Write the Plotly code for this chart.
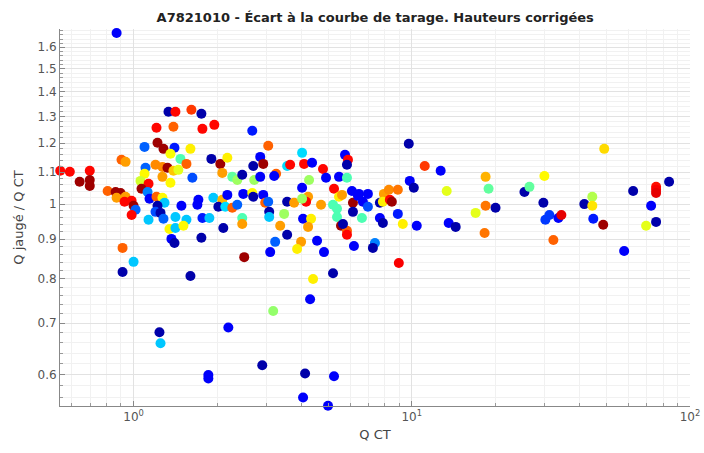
import plotly.graph_objects as go

TITLE = "A7821010 - Écart à la courbe de tarage. Hauteurs corrigées"

# débit de la courbe de tarage (Q CT)
q_ct = [
    0.545, 0.590, 0.640, 0.696, 0.696, 0.696, 0.807, 0.862, 0.898, 0.869,
    0.936, 0.928, 0.984, 1.0, 1.017, 0.984, 0.905, 0.936, 0.913, 0.913,
    1.0, 0.869, 1.335, 1.414, 1.614, 1.753, 1.209, 1.391, 1.768, 1.951,
    1.095, 1.219, 1.281, 1.403, 1.601, 1.357, 1.474, 1.549, 1.904, 2.050,
    2.173, 1.104, 1.199, 1.270, 1.324, 1.391, 1.449, 1.095, 1.270, 1.357,
    1.627, 2.084, 2.264, 2.359, 2.458, 1.059, 1.132, 1.068, 1.123, 1.141,
    1.209, 1.270, 1.292, 1.219, 1.199, 1.250, 1.132, 1.281, 1.414, 1.549,
    1.486, 1.696, 1.710, 1.768, 1.873, 1.935, 2.084, 2.017, 2.137, 2.264,
    2.359, 2.479, 2.173, 1.346, 1.414, 1.511, 1.368, 1.403, 1.753, 2.102,
    2.458, 2.458, 2.499, 1.601, 1.239, 1.250, 2.191, 1.857, 1.857,
    2.671, 3.048, 2.853, 2.693, 2.925, 2.715, 2.853, 2.671, 2.693, 2.925,
    2.973, 3.048, 3.073, 3.073, 3.477, 3.565, 3.777, 3.365, 3.565, 3.228,
    3.098, 4.034, 4.274, 4.034, 3.565, 3.654, 3.254, 3.202, 4.101, 4.381,
    4.239, 4.170, 4.034, 4.067, 4.345, 4.239, 4.719, 4.797, 4.918, 5.254,
    5.476, 5.848, 5.754, 5.897, 5.848, 5.211, 5.476, 5.613, 6.095, 6.145,
    5.386, 5.386, 5.566, 5.848, 5.659, 5.848, 6.404, 4.001, 4.566, 3.871,
    4.837, 6.196, 5.211, 4.418, 4.310, 3.176, 2.901, 4.135, 5.254, 4.067,
    5.0,
    9.755, 11.13, 12.70, 9.836, 10.17, 13.35, 6.457, 6.955, 7.940, 8.273,
    8.910, 6.674, 6.955, 7.681, 7.874, 8.34, 8.480, 6.145, 6.619, 7.681,
    7.874, 8.910, 9.284, 10.42, 13.57, 14.38, 7.370, 7.248, 8.984,
    49.17, 18.42, 18.88, 18.42, 20.0, 16.96, 18.27, 25.41, 26.48, 29.97,
    29.72, 30.21, 31.23, 33.65, 34.49, 32.28, 41.70, 44.55, 44.55, 44.92,
    48.76, 57.99, 62.47, 72.48, 69.55, 75.53, 75.53, 75.53, 75.53, 84.11,
]

# rapport Q jaugé / Q CT
q_ratio = [
    1.105, 1.102, 1.069, 1.105, 1.075, 1.056, 1.040, 1.037, 1.034, 1.019,
    1.022, 1.007, 1.010, 0.995, 0.983, 0.968, 1.142, 1.135, 0.877, 0.816,
    0.841, 1.67, 1.319, 1.319, 1.327, 1.311, 1.257, 1.261, 1.253, 1.268,
    1.187, 1.202, 1.180, 1.184, 1.180, 1.163, 1.145, 1.128, 1.145, 1.128,
    1.149, 1.115, 1.125, 1.118, 1.115, 1.105, 1.108, 1.095, 1.085, 1.066,
    1.082, 1.098, 1.085, 1.075, 1.092, 1.072, 1.063, 1.047, 1.037, 1.016,
    1.022, 1.019, 1.004, 0.995, 0.977, 0.974, 0.954, 0.957, 0.962, 0.954,
    0.995, 0.998, 1.013, 0.959, 0.959, 1.019, 1.013, 0.992, 0.992, 0.989,
    0.998, 1.031, 1.028, 0.928, 0.931, 0.937, 0.901, 0.890, 0.904, 0.931,
    0.959, 0.942, 0.853, 0.806, 0.681, 0.659, 0.691, 0.599, 0.593,
    1.246, 1.191, 1.152, 1.121, 1.128, 1.075, 1.085, 1.034, 1.022, 1.028,
    1.004, 1.007, 0.977, 0.962, 0.971, 1.007, 1.004, 0.937, 0.912, 0.893,
    0.866, 1.050, 1.075, 1.166, 1.121, 1.125, 1.095, 1.088, 1.128, 1.132,
    1.022, 1.007, 1.016, 0.957, 0.957, 0.934, 0.998, 1.111, 1.082, 1.047,
    1.085, 1.082, 1.159, 1.142, 1.125, 0.998, 1.022, 1.028, 1.040, 1.004,
    0.986, 0.962, 0.937, 0.923, 0.942, 0.912, 1.025, 0.893, 0.896, 0.874,
    0.866, 0.882, 0.813, 0.799, 0.752, 0.726, 0.617, 0.602, 0.597, 0.560,
    0.5465,
    1.198, 1.121, 1.105, 1.072, 1.050, 1.040, 1.031, 1.031, 1.031, 1.044,
    1.044, 1.007, 0.992, 1.004, 1.007, 1.013, 1.007, 0.977, 0.959, 0.959,
    0.945, 0.971, 0.942, 0.937, 0.945, 0.934, 0.890, 0.877, 0.838,
    1.180, 1.085, 1.047, 0.995, 0.989, 0.974, 0.917, 1.037, 1.053, 1.088,
    1.004, 0.954, 0.968, 0.959, 0.968, 0.898, 1.000, 1.022, 0.995, 0.957,
    0.940, 0.869, 1.040, 0.995, 0.937, 0.948, 1.053, 1.044, 1.034, 1.069,
]

# valeur de couleur (échelle jet, 0 = ancien, 1 = récent)
colour_val = [
    0.87, 0.87, 0.97, 0.87, 0.97, 0.97, 0.78, 0.97, 0.97, 0.72,
    0.72, 0.87, 0.87, 0.97, 0.22, 0.87, 0.78, 0.72, 0.78, 0.03,
    0.32, 0.12, 0.03, 0.87, 0.82, 0.03, 0.87, 0.78, 0.87, 0.87,
    0.22, 0.97, 0.97, 0.15, 0.64, 0.62, 0.45, 0.78, 0.03, 0.97,
    0.64, 0.22, 0.74, 0.74, 0.97, 0.68, 0.60, 0.63, 0.72, 0.63,
    0.20, 0.72, 0.47, 0.53, 0.03, 0.58, 0.87, 0.97, 0.25, 0.12,
    0.78, 0.63, 0.32, 0.03, 0.20, 0.03, 0.32, 0.22, 0.32, 0.32,
    0.12, 0.12, 0.12, 0.15, 0.32, 0.32, 0.70, 0.03, 0.34, 0.78,
    0.22, 0.12, 0.12, 0.63, 0.32, 0.63, 0.12, 0.03, 0.03, 0.03,
    0.45, 0.72, 0.97, 0.03, 0.03, 0.32, 0.12, 0.12, 0.12,
    0.15, 0.78, 0.12, 0.03, 0.97, 0.53, 0.12, 0.63, 0.03, 0.12,
    0.78, 0.22, 0.03, 0.32, 0.53, 0.03, 0.72, 0.72, 0.03, 0.22,
    0.12, 0.12, 0.53, 0.34, 0.34, 0.87, 0.78, 0.12, 0.87, 0.12,
    0.72, 0.87, 0.53, 0.12, 0.64, 0.72, 0.72, 0.87, 0.12, 0.87,
    0.12, 0.45, 0.12, 0.87, 0.03, 0.45, 0.64, 0.72, 0.12, 0.97,
    0.45, 0.45, 0.97, 0.78, 0.03, 0.87, 0.12, 0.72, 0.12, 0.64,
    0.12, 0.12, 0.03, 0.64, 0.12, 0.52, 0.03, 0.03, 0.12, 0.12,
    0.12,
    0.03, 0.82, 0.12, 0.12, 0.03, 0.60, 0.12, 0.12, 0.72, 0.74,
    0.76, 0.12, 0.20, 0.03, 0.64, 0.87, 0.97, 0.03, 0.45, 0.12,
    0.03, 0.15, 0.64, 0.12, 0.12, 0.03, 0.25, 0.03, 0.88,
    0.66, 0.70, 0.47, 0.76, 0.03, 0.60, 0.76, 0.03, 0.47, 0.63,
    0.03, 0.18, 0.18, 0.12, 0.90, 0.78, 0.03, 0.55, 0.65, 0.15,
    0.97, 0.12, 0.03, 0.12, 0.60, 0.03, 0.86, 0.88, 0.90, 0.03,
]

x_tickvals = [1, 10, 100]
x_ticktext = ["10<sup>0</sup>", "10<sup>1</sup>", "10<sup>2</sup>"]
x_minor = [0.6, 0.7, 0.8, 0.9, 2, 3, 4, 5, 6, 7, 8, 9,
           20, 30, 40, 50, 60, 70, 80, 90]
y_tickvals = [0.6, 0.7, 0.8, 0.9, 1, 1.1, 1.2, 1.3, 1.4, 1.5, 1.6]
y_minor = [v / 100 for v in range(56, 170, 2) if v % 10]

jet = [
    [0.0, "#00008f"], [0.125, "#0000ff"], [0.375, "#00ffff"],
    [0.625, "#ffff00"], [0.875, "#ff0000"], [1.0, "#800000"],
]

fig = go.Figure()
fig.add_trace(go.Scatter(
    x=q_ct, y=q_ratio, mode="markers", cliponaxis=False,
    marker=dict(size=10, color=colour_val, colorscale=jet, cmin=0, cmax=1,
                line=dict(width=0)),
    showlegend=False,
))

axis_font = dict(family="DejaVu Sans", size=12, color="#555555")

fig.update_layout(
    width=704, height=453,
    margin=dict(l=60, r=14, t=29, b=47),
    paper_bgcolor="white", plot_bgcolor="white",
    title=dict(text="<b>" + TITLE + "</b>", x=0.533, xanchor="center",
               y=0.962, yanchor="middle",
               font=dict(family="DejaVu Sans", size=13, color="#222222")),
    xaxis=dict(
        type="log", range=[-0.2644, 2.0], automargin=False,
        tickmode="array", tickvals=x_tickvals, ticktext=x_ticktext,
        ticks="inside", ticklen=5, tickcolor="#888888",
        showline=True, linecolor="#888888", linewidth=1,
        showgrid=True, gridcolor="#e2e2e2", zeroline=False,
        tickfont=axis_font,
        minor=dict(tickmode="array", tickvals=x_minor, ticks="inside",
                   ticklen=3, tickcolor="#999999", showgrid=True,
                   gridcolor="#f1f1f1"),
        title=dict(text="Q CT", standoff=6,
                   font=dict(family="DejaVu Sans", size=13, color="#444444")),
    ),
    yaxis=dict(
        type="log", range=[-0.2628, 0.2279], automargin=False,
        tickmode="array", tickvals=y_tickvals,
        ticks="inside", ticklen=5, tickcolor="#888888",
        showline=True, linecolor="#888888", linewidth=1,
        showgrid=True, gridcolor="#e2e2e2", zeroline=False,
        tickfont=axis_font,
        minor=dict(tickmode="array", tickvals=y_minor, ticks="inside",
                   ticklen=3, tickcolor="#999999", showgrid=True,
                   gridcolor="#f1f1f1"),
        title=dict(text="Q jaugé / Q CT", standoff=10,
                   font=dict(family="DejaVu Sans", size=13, color="#444444")),
    ),
)

# la page a une marge de 8 px par défaut : on la supprime
fig.write_html("out.html", config={"displayModeBar": False},
               post_script="document.body.style.margin='0';")
